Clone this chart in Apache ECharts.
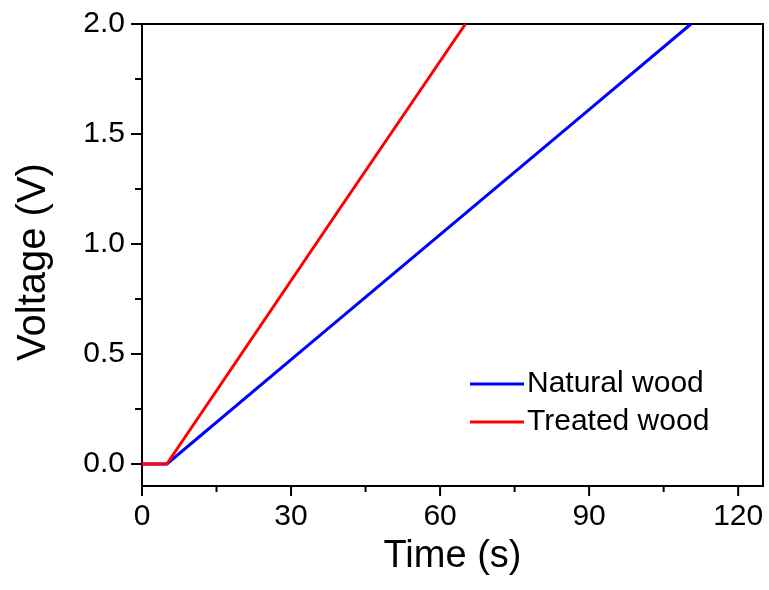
<!DOCTYPE html>
<html>
<head>
<meta charset="utf-8">
<script src="https://cdn.jsdelivr.net/npm/echarts@6/dist/echarts.min.js"></script>
<style>html,body{margin:0;padding:0;background:#fff;}#c{width:769px;height:590px;}</style>
</head>
<body>
<div id="c"></div>
<script>
var naturalTime = [0, 5, 30, 60, 90, 110.5];
var naturalVoltage = [0, 0, 0.474, 1.043, 1.611, 2.0];
var treatedTime = [0, 5, 20, 40, 65.1];
var treatedVoltage = [0, 0, 0.5, 1.167, 2.0];
var seriesNames = ['Natural wood', 'Treated wood'];
var xTicks = [0, 30, 60, 90, 120];
var xMinorTicks = [15, 45, 75, 105];
var yTicks = [0.0, 0.5, 1.0, 1.5, 2.0];
var yMinorTicks = [0.25, 0.75, 1.25, 1.75];

function pairs(xs, ys){ return xs.map(function(x,i){ return [x, ys[i]]; }); }

var font = '"Liberation Sans", Arial, sans-serif';
var chart = echarts.init(document.getElementById('c'));

var tickData = [];
xTicks.forEach(function(v){ tickData.push(['x', v, 1]); });
xMinorTicks.forEach(function(v){ tickData.push(['x', v, 0]); });
yTicks.forEach(function(v){ tickData.push(['y', v, 1]); });
yMinorTicks.forEach(function(v){ tickData.push(['y', v, 0]); });

chart.setOption({
  animation: false,
  grid: {left: 142, right: 6, top: 24, bottom: 104, show: true, borderColor: '#000', borderWidth: 2},
  legend: {
    data: seriesNames, orient: 'vertical', left: 465, top: 364, itemGap: 8,
    itemWidth: 54, itemHeight: 3, icon: 'rect',
    textStyle: {fontFamily: font, fontSize: 30, color: '#000', padding: [0, 0, 0, -2]}
  },
  xAxis: {
    type: 'value', min: 0, max: 125, interval: 15,
    name: 'Time (s)', nameLocation: 'middle', nameGap: 52,
    nameTextStyle: {fontFamily: font, fontSize: 38, color: '#000'},
    axisLine: {onZero: false, lineStyle: {color: '#000', width: 2}},
    axisTick: {show: false},
    splitLine: {show: false},
    axisLabel: {fontFamily: font, fontSize: 30, color: '#000', margin: 16,
      formatter: function(v){ return xTicks.indexOf(v) >= 0 ? String(v) : ''; }}
  },
  yAxis: {
    type: 'value', min: -0.1, max: 2.0,
    name: 'Voltage (V)', nameLocation: 'middle', nameGap: 88,
    nameTextStyle: {fontFamily: font, fontSize: 40, color: '#000', padding: [0, 14, 0, 0]},
    axisLine: {onZero: false, lineStyle: {color: '#000', width: 2}},
    axisTick: {show: false},
    splitLine: {show: false},
    axisLabel: {show: false}
  },
  series: [
    {name: seriesNames[0], type: 'line', data: pairs(naturalTime, naturalVoltage), showSymbol: false,
     lineStyle: {color: '#0000ff', width: 3}, itemStyle: {color: '#0000ff'}, z: 2},
    {name: seriesNames[1], type: 'line', data: pairs(treatedTime, treatedVoltage), showSymbol: false,
     lineStyle: {color: '#ff0000', width: 3}, itemStyle: {color: '#ff0000'}, z: 3},
    {
      type: 'custom', silent: true, z: 5, clip: false,
      data: tickData,
      renderItem: function(params, api){
        var d = tickData[params.dataIndex];
        var major = d[2] === 1;
        var children = [];
        if (d[0] === 'x') {
          var px = api.coord([d[1], -0.1]);
          var lx = major ? 10 : 6;
          children.push({type: 'line', shape: {x1: px[0], y1: px[1], x2: px[0], y2: px[1] + lx},
            style: {stroke: '#000', lineWidth: 2}});
        } else {
          var p = api.coord([0, d[1]]);
          var len = major ? 11 : 7;
          children.push({type: 'line', shape: {x1: p[0] - len, y1: p[1], x2: p[0], y2: p[1]},
            style: {stroke: '#000', lineWidth: 2}});
          if (major) {
            children.push({type: 'text', style: {text: d[1].toFixed(1), x: p[0] - 17, y: p[1],
              textAlign: 'right', textVerticalAlign: 'middle', font: '30px ' + font, fill: '#000'}});
          }
        }
        return {type: 'group', children: children};
      }
    }
  ]
});
</script>
</body>
</html>
